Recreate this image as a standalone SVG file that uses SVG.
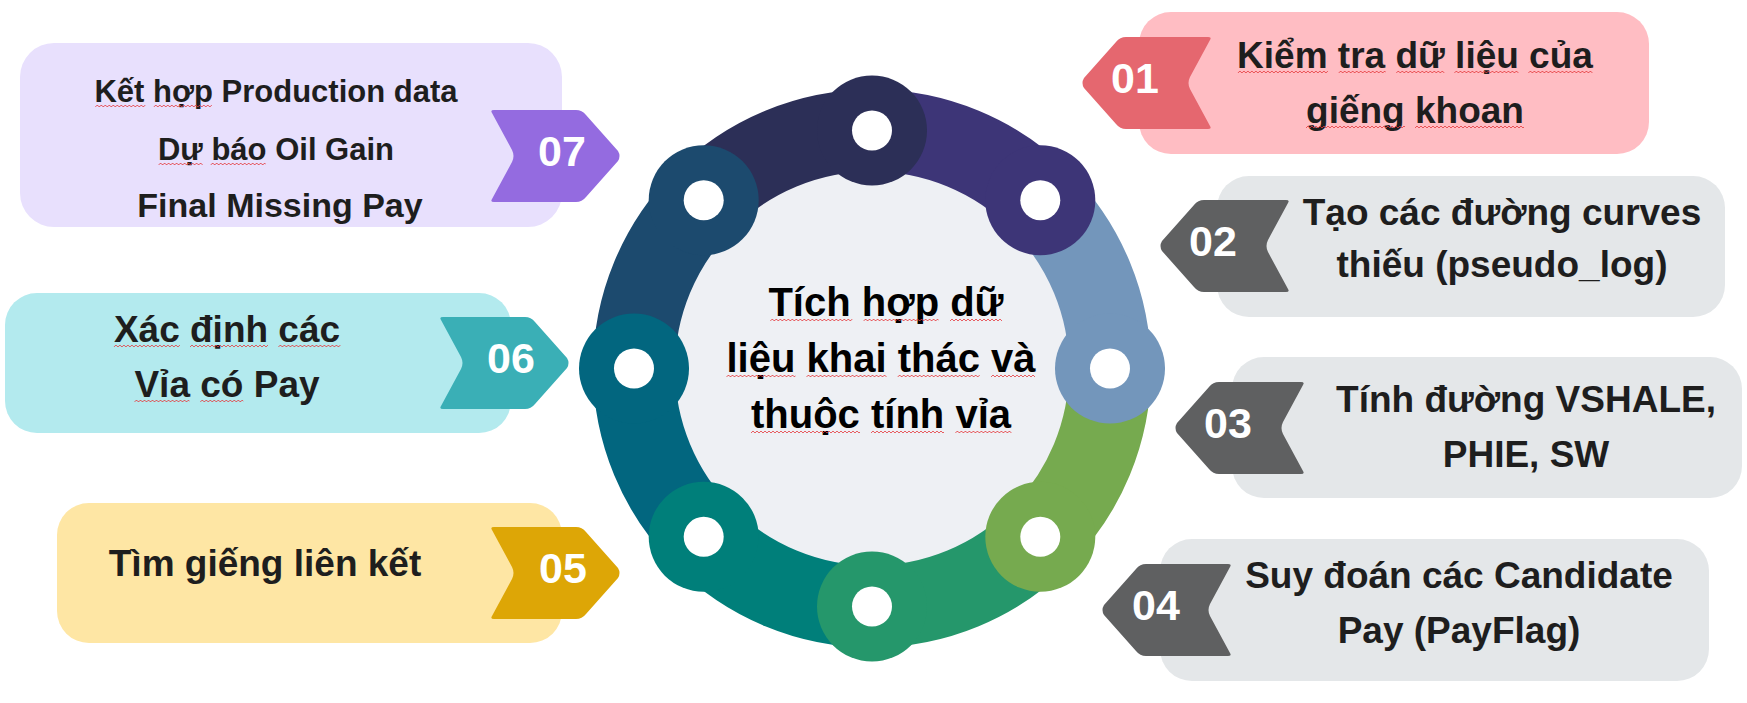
<svg xmlns="http://www.w3.org/2000/svg" xmlns:xlink="http://www.w3.org/1999/xlink" width="1747" height="703" viewBox="0 0 1747 703">
<style>
.t{font-family:"Liberation Sans",Arial,sans-serif;font-weight:bold;fill:#1e1e1e;text-anchor:middle}
.l{font-size:37px}
.c{font-size:40px;fill:#000}
.n{font-family:"Liberation Sans",Arial,sans-serif;font-weight:bold;fill:#fff;font-size:43px;text-anchor:middle}
.sq{fill:url(#wave)}
.seg{fill:none;stroke-width:82}
.hole{fill:#fff}
</style>
<defs>
<path id="badge" d="M4,0 H86 Q92,0 96,5 L128,41 Q131,46 128,51 L96,87 Q92,92 86,92 H4 Q0,92 2,89 L22,52 Q25,46 22,40 L2,3 Q0,0 4,0 Z"/>
<pattern id="wave" width="4" height="4" patternUnits="userSpaceOnUse"><path d="M0,3 L2,1 L4,3" fill="none" stroke="#e5393c" stroke-width="0.8"/></pattern>
</defs>
<rect width="1747" height="703" fill="#fff"/>

<g id="step07">
<rect x="20" y="43" width="542" height="184" rx="34" fill="#e8e0fd"/>
<use xlink:href="#badge" transform="translate(490,110)" fill="#946be0"/>
<text class="n" x="562" y="166">07</text>
<text class="t" x="276" y="102" font-size="31">Kết hợp Production data</text>
<text class="t" x="276" y="160" font-size="31">Dự báo Oil Gain</text>
<text class="t" x="280" y="217" font-size="34">Final Missing Pay</text>
<rect class="sq" transform="translate(95.3,104)" width="50" height="4"/>
<rect class="sq" transform="translate(153.8,104)" width="58" height="4"/>
<rect class="sq" transform="translate(158.6,162)" width="44" height="4"/>
<rect class="sq" transform="translate(210.7,162)" width="55" height="4"/>
</g>

<g id="step06">
<rect x="5" y="293" width="506" height="140" rx="32" fill="#b3eaee"/>
<use xlink:href="#badge" transform="translate(439,317)" fill="#3aafb6"/>
<text class="n" x="511" y="373">06</text>
<text class="t l" x="227" y="342">Xác định các</text>
<text class="t l" x="227" y="397">Vỉa có Pay</text>
<rect class="sq" transform="translate(113.9,344)" width="66" height="4"/>
<rect class="sq" transform="translate(190,344)" width="78" height="4"/>
<rect class="sq" transform="translate(278.4,344)" width="62" height="4"/>
<rect class="sq" transform="translate(134.5,399)" width="55" height="4"/>
<rect class="sq" transform="translate(200.3,399)" width="43" height="4"/>
</g>

<g id="step05">
<rect x="57" y="503" width="505" height="140" rx="32" fill="#fee6a4"/>
<use xlink:href="#badge" transform="translate(490,527)" fill="#dda606"/>
<text class="n" x="563" y="583">05</text>
<text class="t l" x="265" y="576">Tìm giếng liên kết</text>
</g>

<g id="step01">
<rect x="1139" y="12" width="510" height="142" rx="32" fill="#ffbdc3"/>
<use xlink:href="#badge" transform="translate(1212,37) scale(-1,1)" fill="#e5676f"/>
<text class="n" x="1135" y="93">01</text>
<text class="t l" x="1415" y="68">Kiểm tra dữ liệu của</text>
<text class="t l" x="1415" y="123">giếng khoan</text>
<rect class="sq" transform="translate(1237.9,70)" width="90" height="4"/>
<rect class="sq" transform="translate(1338.7,70)" width="47" height="4"/>
<rect class="sq" transform="translate(1396.3,70)" width="48" height="4"/>
<rect class="sq" transform="translate(1454.4,70)" width="64" height="4"/>
<rect class="sq" transform="translate(1528.4,70)" width="64" height="4"/>
<rect class="sq" transform="translate(1306,125)" width="99" height="4"/>
<rect class="sq" transform="translate(1415,125)" width="109" height="4"/>
</g>

<g id="step02">
<rect x="1217" y="176" width="508" height="141" rx="32" fill="#e4e7e9"/>
<use xlink:href="#badge" transform="translate(1290,200) scale(-1,1)" fill="#5f6061"/>
<text class="n" x="1213" y="256">02</text>
<text class="t l" x="1502" y="225">Tạo các đường curves</text>
<text class="t l" x="1502" y="277">thiếu (pseudo_log)</text>
</g>

<g id="step03">
<rect x="1232" y="357" width="510" height="141" rx="32" fill="#e4e7e9"/>
<use xlink:href="#badge" transform="translate(1305,382) scale(-1,1)" fill="#5f6061"/>
<text class="n" x="1228" y="438">03</text>
<text class="t l" x="1526" y="412">Tính đường VSHALE,</text>
<text class="t l" x="1526" y="467">PHIE, SW</text>
</g>

<g id="step04">
<rect x="1160" y="539" width="549" height="142" rx="32" fill="#e4e7e9"/>
<use xlink:href="#badge" transform="translate(1232,564) scale(-1,1)" fill="#5f6061"/>
<text class="n" x="1156" y="620">04</text>
<text class="t l" x="1459" y="588">Suy đoán các Candidate</text>
<text class="t l" x="1459" y="643">Pay (PayFlag)</text>
</g>

<g id="hub">
<circle cx="872" cy="368.5" r="200" fill="#eef0f4"/>
</g>

<g id="connectors">
<path class="seg" stroke="#2c2f57" d="M703.71,200.21 A238,238 0 0 1 872,130.5"/>
<path class="seg" stroke="#3d3577" d="M872,130.5 A238,238 0 0 1 1040.29,200.21"/>
<path class="seg" stroke="#7396bb" d="M1040.29,200.21 A238,238 0 0 1 1110,368.5"/>
<path class="seg" stroke="#76aa4f" d="M1110,368.5 A238,238 0 0 1 1040.29,536.79"/>
<path class="seg" stroke="#25976b" d="M1040.29,536.79 A238,238 0 0 1 872,606.5"/>
<path class="seg" stroke="#007f7a" d="M872,606.5 A238,238 0 0 1 703.71,536.79"/>
<path class="seg" stroke="#02667f" d="M703.71,536.79 A238,238 0 0 1 634,368.5"/>
<path class="seg" stroke="#1c4a6e" d="M634,368.5 A238,238 0 0 1 703.71,200.21"/>
</g>

<g id="ring-nodes">
<circle cx="872" cy="130.5" r="55" fill="#2c2f57"/><circle class="hole" cx="872" cy="130.5" r="20"/>
<circle cx="1040.29" cy="200.21" r="55" fill="#3d3577"/><circle class="hole" cx="1040.29" cy="200.21" r="20"/>
<circle cx="1110" cy="368.5" r="55" fill="#7396bb"/><circle class="hole" cx="1110" cy="368.5" r="20"/>
<circle cx="1040.29" cy="536.79" r="55" fill="#76aa4f"/><circle class="hole" cx="1040.29" cy="536.79" r="20"/>
<circle cx="872" cy="606.5" r="55" fill="#25976b"/><circle class="hole" cx="872" cy="606.5" r="20"/>
<circle cx="703.71" cy="536.79" r="55" fill="#007f7a"/><circle class="hole" cx="703.71" cy="536.79" r="20"/>
<circle cx="634" cy="368.5" r="55" fill="#02667f"/><circle class="hole" cx="634" cy="368.5" r="20"/>
<circle cx="703.71" cy="200.21" r="55" fill="#1c4a6e"/><circle class="hole" cx="703.71" cy="200.21" r="20"/>
</g>

<g id="center">
<text class="t c" x="886" y="316">Tích hợp dữ</text>
<text class="t c" x="881" y="372">liệu khai thác và</text>
<text class="t c" x="881" y="428">thuộc tính vỉa</text>
<rect class="sq" transform="translate(770.3,318)" width="82" height="4"/>
<rect class="sq" transform="translate(863.6,318)" width="75" height="4"/>
<rect class="sq" transform="translate(950,318)" width="52" height="4"/>
<rect class="sq" transform="translate(726.5,374)" width="69" height="4"/>
<rect class="sq" transform="translate(806.5,374)" width="80" height="4"/>
<rect class="sq" transform="translate(897.7,374)" width="82" height="4"/>
<rect class="sq" transform="translate(991,374)" width="44" height="4"/>
<rect class="sq" transform="translate(751,430)" width="109" height="4"/>
<rect class="sq" transform="translate(871,430)" width="73" height="4"/>
<rect class="sq" transform="translate(955.4,430)" width="56" height="4"/>
</g>
</svg>
